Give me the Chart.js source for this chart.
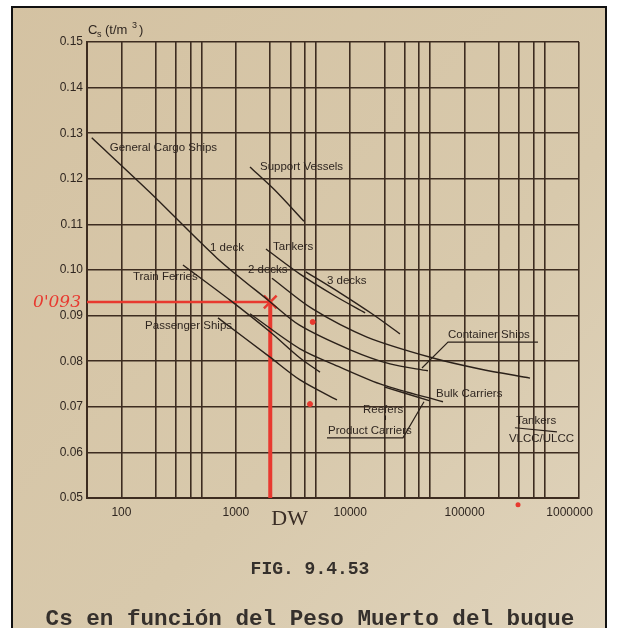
<!DOCTYPE html>
<html>
<head>
<meta charset="utf-8">
<script src="https://cdn.jsdelivr.net/npm/chart.js@4.4.1/dist/chart.umd.min.js"></script>
<style>
  html,body{margin:0;padding:0;background:#fff;}
  canvas{display:block;}
</style>
</head>
<body>
<canvas id="c" width="618" height="628"></canvas>
<script>
// grid + tick values
const xGrid = [100,200,300,400,500,1000,2000,3000,4000,5000,10000,20000,30000,40000,50000,
               100000,200000,300000,400000,500000,1000000];
const xTickLabels = [100,1000,10000,100000,1000000];
const yTickLabels = [0.05,0.06,0.07,0.08,0.09,0.10,0.11,0.12,0.13,0.14,0.15];

// curves (DW, Cs)
const cargo1DW   = [55,178,685,2000,3600,10000,22300,47800];
const cargo1Cs   = [0.129,0.117,0.1026,0.093,0.0879,0.0825,0.0794,0.0779];
const cargo2DW   = [2070,4730,14000,52900,136000,373000];
const cargo2Cs   = [0.0982,0.0914,0.0853,0.0807,0.0783,0.0763];
const cargo3DW   = [4100,8140,15500,27200];
const cargo3Cs   = [0.0996,0.0950,0.0904,0.0860];
const tankersDW  = [1835,3640,7360,13500];
const tankersCs  = [0.1046,0.0991,0.0943,0.0906];
const supportDW  = [1330,2200,3940];
const supportCs  = [0.1226,0.1175,0.1107];
const ferriesDW  = [345,889,2000,3640,5440];
const ferriesCs  = [0.1011,0.0934,0.0864,0.0807,0.0776];
const bulkDW     = [1330,3640,8140,19300,64700];
const bulkCs     = [0.0904,0.0827,0.0787,0.0748,0.0711];
const productDW  = [20100,49800];
const productCs  = [0.0743,0.0713];
const passDW     = [698,1990,3640,7660];
const passCs     = [0.0895,0.0809,0.0759,0.0715];

// red pencil reading
const readDW = 2000;
const readCs = 0.093;
const redDotsDW = [4700,4450];
const redDotsCs = [0.0886,0.0706];
const strayDotDW = 293000;
const strayDotCs = 0.0485;

// curve labels [text, DW, Cs]
const curveLabels = [
  ["General Cargo Ships",79,0.1268],
  ["Support Vessels",1626,0.1226],
  ["1 deck",595,0.1048],
  ["Tankers",2113,0.1050],
  ["2 decks",1277,0.1000],
  ["3 decks",6265,0.0976],
  ["Train Ferries",126,0.0985],
  ["Passenger Ships",161,0.0877],
  ["Container Ships",71600,0.0857],
  ["Bulk Carriers",56200,0.0728],
  ["Reefers",12930,0.0693],
  ["Product Carriers",6393,0.0647],
  ["Tankers",281000,0.0669],
  ["VLCC/ULCC",244000,0.0629]
];
// leader lines [[DW,Cs],[DW,Cs],...]
const leaders = [
  [[437700,0.0842],[71600,0.0842],[42400,0.0785]],
  [[6265,0.0632],[28900,0.0632],[44150,0.0711]],
  [[275400,0.0654],[641500,0.0645]],
  [[20300,0.0681],[20300,0.0671]]
];

const INK = "#2b211a";
const GRID = "#3d2c20";
const RED = "#e8392f";

const pts = (xs,ys)=>xs.map((x,i)=>({x:x,y:ys[i]}));
function curve(xs,ys){
  return {data:pts(xs,ys), borderColor:INK, borderWidth:1.4, pointRadius:0,
          tension:0.3, fill:false};
}

const paper = {
  id:"paper",
  beforeDraw(ch){
    const c = ch.ctx;
    c.save();
    c.fillStyle="#fff"; c.fillRect(0,0,618,628);
    const g = c.createLinearGradient(0,0,618,628);
    g.addColorStop(0,"#d4c2a2"); g.addColorStop(0.6,"#d8c9ac"); g.addColorStop(1,"#e0d4bd");
    c.fillStyle=g; c.fillRect(12,7,594,621);
    c.strokeStyle="#111"; c.lineWidth=2;
    c.beginPath(); c.moveTo(12,628); c.lineTo(12,7); c.lineTo(606,7); c.lineTo(606,628); c.stroke();
    c.restore();
  },
  afterDraw(ch){
    const c = ch.ctx, xs = ch.scales.x, ys = ch.scales.y, a = ch.chartArea;
    c.save();
    c.fillStyle="#2f2620";
    // y ticks
    c.font="12px 'Liberation Sans', Arial, sans-serif";
    c.textAlign="right"; c.textBaseline="middle";
    yTickLabels.forEach(v=>c.fillText(v.toFixed(2), a.left-4, ys.getPixelForValue(v)));
    // x ticks
    c.textBaseline="alphabetic";
    xTickLabels.forEach((v,i)=>{
      const last = i===xTickLabels.length-1;
      c.textAlign = last ? "right" : "center";
      c.fillText(String(v), last ? a.right+14 : xs.getPixelForValue(v), a.bottom+18);
    });
    // axis title Cs (t/m3)
    c.textAlign="left";
    c.font="13px 'Liberation Sans', Arial, sans-serif";
    c.fillText("C", a.left+1, a.top-8);
    c.font="9px 'Liberation Sans', Arial, sans-serif";
    c.fillText("s", a.left+10, a.top-5);
    c.font="13px 'Liberation Sans', Arial, sans-serif";
    c.fillText("(t/m", a.left+18, a.top-8);
    c.font="9px 'Liberation Sans', Arial, sans-serif";
    c.fillText("3", a.left+45, a.top-14);
    c.font="13px 'Liberation Sans', Arial, sans-serif";
    c.fillText(")", a.left+52, a.top-8);
    // curve labels
    c.font="11.5px 'Liberation Sans', Arial, sans-serif";
    c.textBaseline="middle";
    curveLabels.forEach(([t,x,y])=>c.fillText(t, xs.getPixelForValue(x), ys.getPixelForValue(y)));
    c.strokeStyle=INK; c.lineWidth=1.2;
    leaders.forEach(l=>{
      c.beginPath();
      l.forEach(([x,y],i)=>{
        const px=xs.getPixelForValue(x), py=ys.getPixelForValue(y);
        i?c.lineTo(px,py):c.moveTo(px,py);
      });
      c.stroke();
    });
    // stray red dot under the axis
    c.fillStyle=RED;
    c.beginPath();
    c.arc(xs.getPixelForValue(strayDotDW), ys.getPixelForValue(strayDotCs), 2.5, 0, Math.PI*2);
    c.fill();
    // handwritten notes
    c.font="italic 17px 'DejaVu Serif', serif";
    c.textAlign="right";
    c.fillText("0'093", a.left-6, ys.getPixelForValue(readCs)+1);
    c.fillStyle="#3a2d25";
    c.textAlign="left";
    c.font="22px 'Liberation Serif', serif";
    c.fillText("DW", xs.getPixelForValue(readDW)+1, a.bottom+21);
    // caption
    c.fillStyle="#35302c";
    c.textAlign="center";
    c.textBaseline="alphabetic";
    c.font="bold 18px 'Liberation Mono', monospace";
    c.fillText("FIG. 9.4.53", 310, 574);
    c.font="bold 22.6px 'Liberation Mono', monospace";
    c.fillText("Cs en función del Peso Muerto del buque", 310, 625);
    c.restore();
  }
};

new Chart(document.getElementById("c"), {
  type:"line",
  data:{datasets:[
    curve(cargo1DW,cargo1Cs),
    curve(cargo2DW,cargo2Cs),
    curve(cargo3DW,cargo3Cs),
    curve(tankersDW,tankersCs),
    curve(supportDW,supportCs),
    curve(ferriesDW,ferriesCs),
    curve(bulkDW,bulkCs),
    curve(productDW,productCs),
    curve(passDW,passCs),
    {data:[{x:50,y:readCs},{x:readDW,y:readCs}], borderColor:RED, borderWidth:2.5, pointRadius:0},
    {data:[{x:readDW,y:readCs},{x:readDW,y:0.05}], borderColor:RED, borderWidth:4, pointRadius:0},
    {data:[{x:readDW,y:readCs}], showLine:false, pointStyle:"crossRot", pointRadius:9,
     borderColor:RED, borderWidth:2.5},
    {data:pts(redDotsDW,redDotsCs), showLine:false, pointRadius:2.5, backgroundColor:RED,
     borderColor:RED}
  ]},
  options:{
    responsive:false, animation:false,
    layout:{padding:{left:87,right:39,top:42,bottom:130}},
    plugins:{legend:{display:false}, tooltip:{enabled:false}},
    scales:{
      x:{type:"logarithmic", min:50, max:1000000,
         afterBuildTicks:s=>{ s.ticks = xGrid.map(v=>({value:v})); },
         ticks:{display:false},
         grid:{color:GRID, lineWidth:1.6, drawTicks:false},
         border:{display:true, color:GRID, width:2}},
      y:{min:0.05, max:0.15,
         ticks:{display:false, stepSize:0.01},
         grid:{color:GRID, lineWidth:1.6, drawTicks:false},
         border:{display:true, color:GRID, width:2}}
    }
  },
  plugins:[paper]
});
</script>
</body>
</html>
